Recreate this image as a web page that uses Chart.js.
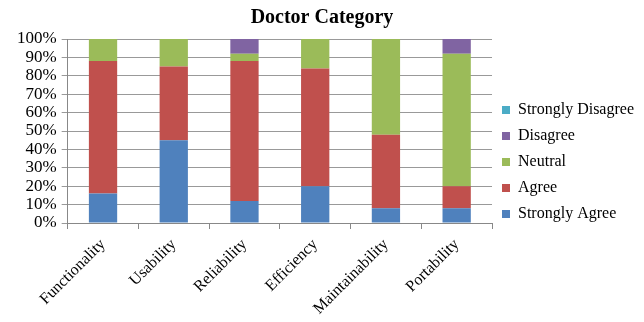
<!DOCTYPE html>
<html>
<head>
<meta charset="utf-8">
<script src="https://cdn.jsdelivr.net/npm/chart.js@4"></script>
<style>
  html, body { margin: 0; padding: 0; background: #fff; }
  #wrap { width: 644px; height: 322px; }
</style>
</head>
<body>
<div id="wrap"><canvas id="chart"></canvas></div>
<script>
const categories = ["Functionality", "Usability", "Reliability", "Efficiency", "Maintainability", "Portability"];
const stronglyAgree = [16, 45, 12, 20, 8, 8];
const agree = [72, 40, 76, 64, 40, 12];
const neutral = [12, 15, 4, 16, 52, 72];
const disagree = [0, 0, 8, 0, 0, 8];
const stronglyDisagree = [0, 0, 0, 0, 0, 0];
const yTicks = [0, 10, 20, 30, 40, 50, 60, 70, 80, 90, 100];

const font = "Liberation Serif";
Chart.defaults.font.family = font;

function ds(label, data, color) {
  return {
    label: label,
    data: data,
    backgroundColor: color,
    borderWidth: 0,
    barPercentage: 0.8,
    categoryPercentage: 0.5,
  };
}

new Chart(document.getElementById("chart"), {
  type: "bar",
  data: {
    labels: categories,
    datasets: [
      ds("Strongly Agree", stronglyAgree, "#4f81bd"),
      ds("Agree", agree, "#c0504d"),
      ds("Neutral", neutral, "#9bbb59"),
      ds("Disagree", disagree, "#8064a2"),
      ds("Strongly Disagree", stronglyDisagree, "#4bacc6"),
    ],
  },
  options: {
    responsive: true,
    maintainAspectRatio: false,
    animation: false,
    layout: { padding: { left: 0, right: 0, top: 2, bottom: 0 } },
    plugins: {
      title: {
        display: true,
        text: "Doctor Category",
        color: "#000",
        font: { size: 20, weight: "bold", family: font },
        padding: { top: 4, bottom: 9 },
      },
      legend: {
        position: "right",
        reverse: true,
        labels: {
          color: "#000",
          boxWidth: 8,
          boxHeight: 8,
          padding: 10,
          font: { size: 16, family: font },
        },
      },
      tooltip: { enabled: false },
    },
    scales: {
      x: {
        stacked: true,
        afterFit: (scale) => {
          scale.height = 99;
        },
        grid: { display: true, drawOnChartArea: false, color: "#888", tickLength: 6 },
        border: { color: "#888" },
        ticks: {
          color: "#000",
          maxRotation: 45,
          minRotation: 45,
          autoSkip: false,
          font: { size: 16, family: font },
          padding: 6,
        },
      },
      y: {
        stacked: true,
        min: 0,
        max: 100,
        afterBuildTicks: (axis) => {
          axis.ticks = yTicks.map((v) => ({ value: v }));
        },
        afterFit: (scale) => {
          scale.width += 12;
        },
        grid: { color: "#999", tickLength: 6 },
        border: { color: "#888" },
        ticks: {
          color: "#000",
          padding: 5,
          autoSkip: false,
          font: { size: 17, family: font },
          callback: (v) => v + "%",
        },
      },
    },
  },
});
</script>
</body>
</html>
